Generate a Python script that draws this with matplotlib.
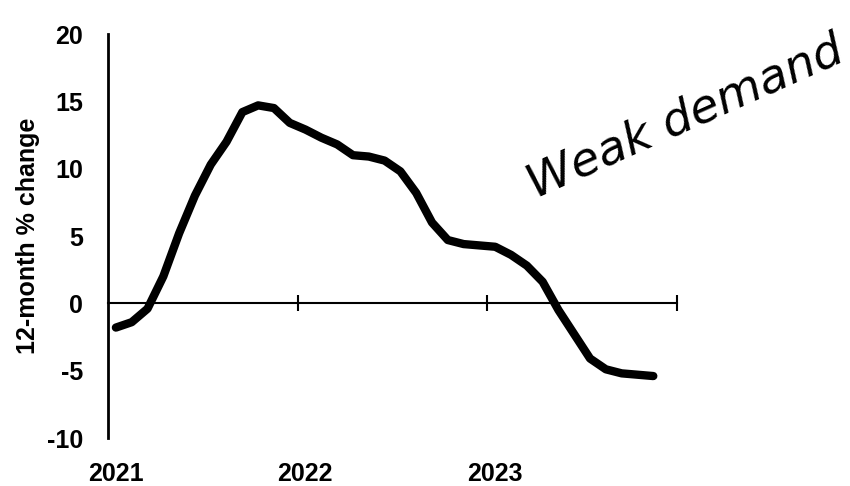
import numpy as np
import matplotlib.pyplot as plt

# monthly readings, Jan 2021 .. Nov 2023 (placed mid-month)
months = np.arange(35)
pct_change = [-1.8, -1.4, -0.4, 2.0, 5.2, 8.0, 10.3, 12.0, 14.2, 14.7,
              14.5, 13.4, 12.9, 12.3, 11.8, 11.0, 10.9, 10.6, 9.8, 8.2,
              6.0, 4.7, 4.4, 4.3, 4.2, 3.6, 2.8, 1.6, -0.5, -2.3,
              -4.1, -4.9, -5.2, -5.3, -5.4]
years = ['2021', '2022', '2023']
yticks = [-10, -5, 0, 5, 10, 15, 20]

x = (months + 0.5) / 12.0

plt.rcParams['font.family'] = ['Liberation Sans', 'DejaVu Sans']

fig = plt.figure(figsize=(8.5, 4.86), dpi=100)
ax = fig.add_axes([108/850, 48/486, (677-108)/850, (438-34)/486])

ax.plot(x, pct_change, color='black', linewidth=6, solid_capstyle='round',
        solid_joinstyle='round')

ax.set_xlim(0, 3)
ax.set_ylim(-10, 20)

ax.spines['top'].set_visible(False)
ax.spines['right'].set_visible(False)
ax.spines['left'].set_linewidth(2)
ax.spines['bottom'].set_position(('data', 0))
ax.spines['bottom'].set_linewidth(1.5)

ax.set_xticks([1, 2, 3])
ax.tick_params(axis='x', direction='inout', length=12, width=1.5,
               labelbottom=False)
ax.set_yticks(yticks)
ax.set_yticklabels([str(v) for v in yticks], fontsize=18, fontweight='bold')
ax.tick_params(axis='y', length=0, pad=18)

sec = ax.secondary_xaxis('bottom')
sec.set_xticks(np.arange(len(years)) + 0.04)
sec.set_xticklabels(years, fontsize=18, fontweight='bold')
sec.tick_params(length=0, pad=17)
sec.spines['bottom'].set_visible(False)

ax.set_ylabel('12-month % change', fontsize=18, fontweight='bold')
ax.yaxis.set_label_coords(-0.12, 0.5)

# handwritten note
fig.text(686/850, 1 - 118/486, 'Weak demand', fontsize=34, style='italic',
         rotation=24, ha='center', va='center', family='DejaVu Sans')

fig.savefig('out.png', dpi=100)
